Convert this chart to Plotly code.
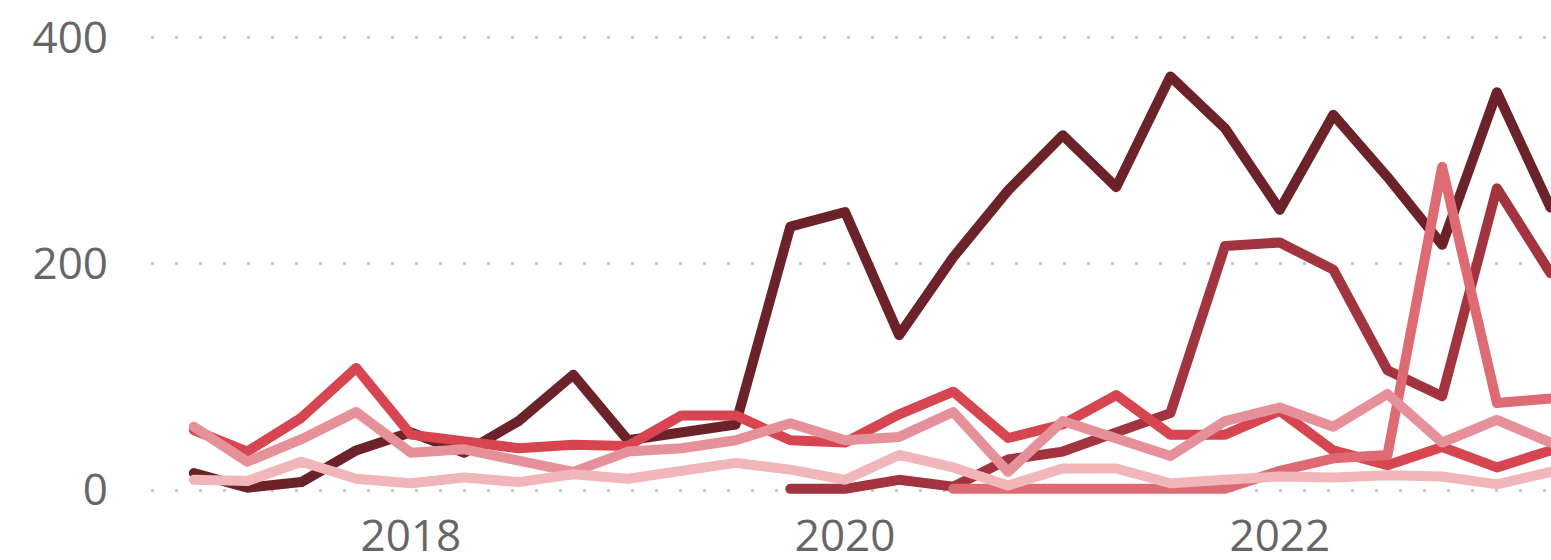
import plotly.graph_objects as go

quarters = [
    "2017-01-01", "2017-04-01", "2017-07-01", "2017-10-01",
    "2018-01-01", "2018-04-01", "2018-07-01", "2018-10-01",
    "2019-01-01", "2019-04-01", "2019-07-01", "2019-10-01",
    "2020-01-01", "2020-04-01", "2020-07-01", "2020-10-01",
    "2021-01-01", "2021-04-01", "2021-07-01", "2021-10-01",
    "2022-01-01", "2022-04-01", "2022-07-01", "2022-10-01",
    "2023-01-01", "2023-04-01",
]

series_a = [15, 2, 7, 35, 51, 33, 61, 102, 44, 52, 58, 233,
            246, 137, 206, 265, 314, 268, 366, 320, 248, 332, 277, 217, 352, 250]
series_b = [None] * 11 + [1, 1, 9, 3, 27, 34, 51, 68, 216, 219, 195, 106, 83, 267, 192]
series_c = [53, 34, 64, 108, 49, 44, 37, 40, 39, 66, 66, 44,
            42, 67, 87, 46, 58, 84, 49, 49, 70, 35, 22, 38, 20, 35]
series_d = [None] * 14 + [1, 1, 1, 1, 1, 1, 17, 28, 31, 286, 77, 81]
series_e = [56, 25, 45, 69, 33, 36, 26, 16, 34, 37, 44, 59,
            44, 47, 69, 16, 61, 45, 30, 61, 73, 56, 85, 42, 62, 42]
series_f = [9, 8, 25, 10, 6, 11, 7, 14, 10, 18, 24, 18,
            9, 31, 20, 4, 19, 19, 6, 9, 12, 11, 13, 12, 5, 16]

names = ["A", "B", "C", "D", "E", "F"]
values = [series_a, series_b, series_c, series_d, series_e, series_f]
colors = ["#6B2329", "#A2343F", "#D64550", "#DE6B74", "#E69199", "#F0B6BA"]

y_ticks = [0, 200, 400]
x_tick_dates = ["2018-01-01", "2020-01-01", "2022-01-01"]
x_tick_labels = ["2018", "2020", "2022"]

fig = go.Figure()
for n, v, c in zip(names, values, colors):
    fig.add_trace(go.Scatter(
        x=quarters, y=v, name=n, mode="lines",
        line=dict(color=c, width=10),
        connectgaps=False, showlegend=False, hoverinfo="skip",
    ))

font_family = "Segoe UI, Open Sans, Noto Sans, sans-serif"
fig.update_layout(
    width=1551, height=560,
    margin=dict(l=151, r=0, t=0, b=60, autoexpand=False),
    paper_bgcolor="white", plot_bgcolor="white",
    font=dict(family=font_family, size=44, color="#666666"),
    xaxis=dict(
        type="date", automargin=False,
        range=["2016-10-21", "2023-04-02"],
        tickvals=x_tick_dates, ticktext=x_tick_labels,
        showgrid=False, zeroline=False, showline=False,
        ticks="", ticklabelstandoff=6,
        tickfont=dict(size=44, color="#666666"),
    ),
    yaxis=dict(
        automargin=False,
        range=[-8.85, 433.6],
        tickvals=y_ticks,
        showgrid=True, gridcolor="#C8C8C8", gridwidth=3,
        griddash="3px,21px",
        zeroline=False, showline=False, ticks="",
        ticklabelstandoff=42,
        tickfont=dict(size=44, color="#666666"),
    ),
)

post = (
    "document.body.style.margin='0';"
    "document.body.style.padding='0';"
    "var s=document.createElement('style');"
    "s.innerHTML='.scatterlayer .js-line{stroke-linejoin:round;stroke-linecap:round;}';"
    "document.head.appendChild(s);"
)
fig.write_html("out.html", post_script=post, config={"displayModeBar": False})
